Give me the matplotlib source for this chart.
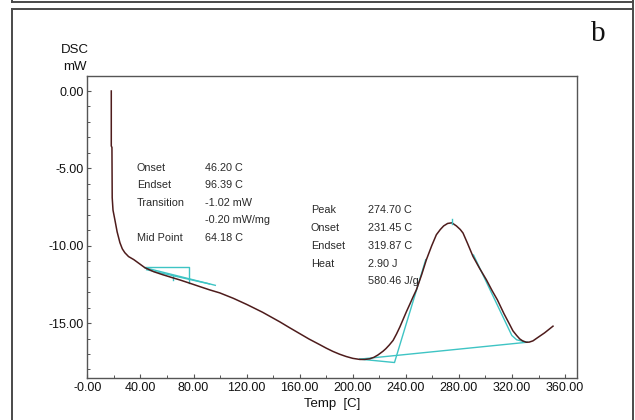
import matplotlib
matplotlib.use("Agg")
import matplotlib.pyplot as plt
from matplotlib.lines import Line2D
from matplotlib.ticker import MultipleLocator

plt.rcParams['font.family'] = ['Liberation Sans', 'DejaVu Sans']

# DSC trace, temperature [C] vs heat flow [mW]
temp = [18.0, 18.0, 18.5, 18.7, 19.3, 20.7, 22.4, 24.5, 26.3, 28.2, 31.0, 35.0,
        39.0, 43.3, 50.0, 57.0, 64.6, 70.0, 76.7, 85.0, 92.0, 99.8, 110.0,
        120.2, 132.0, 145.0, 152.0, 160.0, 167.0, 175.0, 180.0, 185.0, 190.0,
        195.0, 200.0, 205.3, 209.0, 212.8, 216.0, 219.0, 222.8, 225.0, 227.5,
        230.4, 233.0, 235.5, 237.9, 240.5, 243.0, 245.5, 248.0, 252.0, 255.5,
        259.5, 263.0, 266.0, 268.5, 271.5, 274.7, 278.1, 281.0, 283.1, 286.5,
        290.6, 295.5, 300.7, 305.0, 309.0, 314.0, 318.3, 320.7, 323.5, 325.8,
        328.0, 330.8, 333.0, 335.8, 340.0, 344.6, 350.9]
heat_flow = [0.00, -3.55, -3.65, -6.90, -7.70, -8.32, -9.10, -9.80, -10.20,
             -10.45, -10.70, -10.90, -11.15, -11.42, -11.68, -11.88, -12.08,
             -12.22, -12.41, -12.65, -12.85, -13.05, -13.40, -13.80, -14.30,
             -14.92, -15.28, -15.68, -16.03, -16.39, -16.62, -16.83, -17.01,
             -17.16, -17.28, -17.35, -17.35, -17.31, -17.21, -17.06, -16.82,
             -16.65, -16.42, -16.12, -15.70, -15.25, -14.77, -14.25, -13.78,
             -13.30, -12.84, -11.85, -10.90, -10.00, -9.29, -8.95, -8.72,
             -8.56, -8.52, -8.72, -8.95, -9.18, -9.85, -10.69, -11.45, -12.20,
             -12.90, -13.50, -14.40, -15.10, -15.50, -15.80, -16.02, -16.15,
             -16.24, -16.23, -16.15, -15.90, -15.63, -15.20]

# glass transition analysis
gt_onset, gt_endset, gt_mid = 46.20, 96.39, 64.18
gt_step_x = [43.3, 76.7, 76.7]
gt_step_y = [-11.37, -11.37, -12.41]
gt_tan1_x = [43.3, gt_endset]
gt_tan1_y = [-11.42, -12.56]
gt_tan2_x = [44.6, 92.0]
gt_tan2_y = [-11.55, -12.47]
gt_labels = ['Onset', 'Endset', 'Transition', '', 'Mid Point']
gt_values = ['46.20 C', '96.39 C', '-1.02 mW', '-0.20 mW/mg', '64.18 C']

# melting peak analysis
peak_t, melt_onset, melt_endset = 274.70, 231.45, 319.87
base_x = [205.3, 331.3]
base_y = [-17.33, -16.24]
left_tan_x = [205.3, melt_onset, 255.0]
left_tan_y = [-17.33, -17.55, -10.90]
right_tan_x = [291.0, melt_endset, 323.5, 331.3]
right_tan_y = [-10.60, -15.80, -16.08, -16.24]
melt_labels = ['Peak', 'Onset', 'Endset', 'Heat', '']
melt_values = ['274.70 C', '231.45 C', '319.87 C', '2.90 J', '580.46 J/g']

xticks = [0, 40, 80, 120, 160, 200, 240, 280, 320, 360]
xticklabels = ['-0.00', '40.00', '80.00', '120.00', '160.00', '200.00',
               '240.00', '280.00', '320.00', '360.00']
yticks = [0, -5, -10, -15]
yticklabels = ['0.00', '-5.00', '-10.00', '-15.00']

curve_c = '#4e1c1c'
cyan = '#3ec4c4'
frame_c = '#4a4a4a'

fig = plt.figure(figsize=(6.35, 4.2), dpi=100)
W, H = 635.0, 420.0

def fx(px):
    return px / W

def fy(py):
    return 1 - py / H

# panel frame
fig.add_artist(Line2D([fx(11.5), fx(11.5)], [fy(8.5), fy(420)], color=frame_c, lw=1.4, transform=fig.transFigure))
fig.add_artist(Line2D([fx(11.5), fx(633)], [fy(8.5), fy(8.5)], color=frame_c, lw=1.4, transform=fig.transFigure))
fig.add_artist(Line2D([fx(633), fx(633)], [fy(0), fy(420)], color=frame_c, lw=1.4, transform=fig.transFigure))
fig.add_artist(Line2D([fx(12), fx(633)], [fy(2), fy(2)], color=frame_c, lw=1.4, transform=fig.transFigure))
fig.add_artist(Line2D([fx(12), fx(12)], [fy(0), fy(2)], color=frame_c, lw=1.4, transform=fig.transFigure))

fig.text(fx(598), fy(34), 'b', family=['Liberation Serif', 'DejaVu Serif'],
         fontsize=21, ha='center', va='center', color='#111111')

ax = fig.add_axes([fx(87), fy(378), fx(577) - fx(87), fy(76) - fy(378)])
ax.plot(temp, heat_flow, color=curve_c, lw=1.1, zorder=3)

ax.plot(gt_step_x, gt_step_y, color=cyan, lw=1.0)
ax.plot(gt_tan1_x, gt_tan1_y, color=cyan, lw=1.0)
ax.plot(gt_tan2_x, gt_tan2_y, color=cyan, lw=1.0)
ax.plot([gt_mid, gt_mid], [-11.95, -12.20], color=cyan, lw=1.0)

ax.plot(base_x, base_y, color=cyan, lw=1.0)
ax.plot(left_tan_x, left_tan_y, color=cyan, lw=1.0)
ax.plot(right_tan_x, right_tan_y, color=cyan, lw=1.0)
ax.plot([peak_t, peak_t], [-8.30, -8.62], color=cyan, lw=1.0, zorder=4)

ax.set_xlim(-0.3, 369)
ax.set_ylim(-18.55, 0.97)
ax.set_xticks(xticks)
ax.set_xticklabels(xticklabels)
ax.set_yticks(yticks)
ax.set_yticklabels(yticklabels)
ax.xaxis.set_minor_locator(MultipleLocator(20))
ax.yaxis.set_minor_locator(MultipleLocator(1))
ax.tick_params(which='both', direction='in', color='#555555', labelsize=9,
               labelcolor='#111111')
ax.tick_params(which='major', length=3, width=0.8)
ax.tick_params(which='minor', length=2, width=0.7)
ax.tick_params(axis='y', pad=2.5)
ax.tick_params(axis='x', pad=3)
for sp in ax.spines.values():
    sp.set_color('#555555')
    sp.set_linewidth(1.0)

# analysis result text
gt_rows = [-4.97, -6.10, -7.23, -8.35, -9.48]
for lab, val, y in zip(gt_labels, gt_values, gt_rows):
    ax.text(37.3, y, lab, fontsize=7.8, va='center', color='#2a2a2a')
    ax.text(88.5, y, val, fontsize=7.8, va='center', color='#2a2a2a')

melt_rows = [-7.68, -8.84, -10.00, -11.16, -12.26]
for lab, val, y in zip(melt_labels, melt_values, melt_rows):
    ax.text(168.4, y, lab, fontsize=7.8, va='center', color='#2a2a2a')
    ax.text(211.3, y, val, fontsize=7.8, va='center', color='#2a2a2a')

fig.text(fx(74.5), fy(50), 'DSC', fontsize=9.5, ha='center', va='center', color='#111111')
fig.text(fx(74.5), fy(67), 'mW', fontsize=9.5, ha='center', va='center', color='#111111')
fig.text(fx(332), fy(404), 'Temp  [C]', fontsize=9.5, ha='center', va='center', color='#111111')

fig.savefig('out.png', dpi=100)
